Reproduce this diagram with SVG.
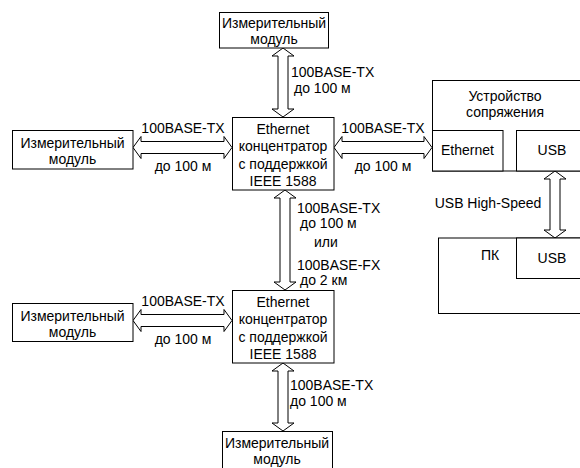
<svg xmlns="http://www.w3.org/2000/svg" width="580" height="468" viewBox="0 0 580 468">
<style>
.box{fill:#fff;stroke:#000;stroke-width:1}
.arr{fill:#fff;stroke:#000;stroke-width:1}
text{font-family:"Liberation Sans",Arial,sans-serif;font-size:14px;fill:#000}
.c{text-anchor:middle}
</style>
<rect width="580" height="468" fill="#fff"/>
<g id="connectors">
  <path class="arr" d="M283,48 L294,56 L288,56 L288,109 L294,109 L283,117 L272,109 L278,109 L278,56 L272,56 Z"/>
  <path class="arr" d="M133,147.5 L141,136.5 L141,141.5 L224,141.5 L224,136.5 L232,147.5 L224,158.5 L224,153.5 L141,153.5 L141,158.5 Z"/>
  <path class="arr" d="M334,147.5 L342,136.5 L342,141.5 L424,141.5 L424,136.5 L432,147.5 L424,158.5 L424,153.5 L342,153.5 L342,158.5 Z"/>
  <path class="arr" d="M285,190 L296,198 L290,198 L290,282 L296,282 L285,290 L274,282 L280,282 L280,198 L274,198 Z"/>
  <path class="arr" d="M133,320.5 L141,309.5 L141,314.5 L224,314.5 L224,309.5 L232,320.5 L224,331.5 L224,326.5 L141,326.5 L141,331.5 Z"/>
  <path class="arr" d="M283,363 L294,371 L288,371 L288,423 L294,423 L283,431 L272,423 L278,423 L278,371 L272,371 Z"/>
  <path class="arr" d="M555,171 L566,179 L560,179 L560,230 L566,230 L555,238 L544,230 L550,230 L550,179 L544,179 Z"/>
  <text x="291" y="77">100BASE-TX</text>
  <text x="294" y="93">до 100 м</text>
  <text class="c" x="183" y="133">100BASE-TX</text>
  <text class="c" x="183" y="171">до 100 м</text>
  <text class="c" x="383" y="133">100BASE-TX</text>
  <text class="c" x="383" y="171">до 100 м</text>
  <text x="297" y="213">100BASE-TX</text>
  <text x="300" y="228">до 100 м</text>
  <text x="314" y="247">или</text>
  <text x="297" y="270">100BASE-FX</text>
  <text x="300" y="285">до 2 км</text>
  <text class="c" x="183" y="306">100BASE-TX</text>
  <text class="c" x="183" y="344">до 100 м</text>
  <text x="290" y="390">100BASE-TX</text>
  <text x="290" y="406">до 100 м</text>
  <text class="c" x="488" y="208">USB High-Speed</text>
</g>
<g id="module-top">
  <rect class="box" x="219.5" y="12.5" width="109" height="35.5"/>
  <text class="c" x="274" y="28">Измерительный</text>
  <text class="c" x="274" y="44">модуль</text>
</g>
<g id="module-left1">
  <rect class="box" x="12.5" y="130.5" width="120.5" height="38.5"/>
  <text class="c" x="72.5" y="148">Измерительный</text>
  <text class="c" x="72.5" y="164">модуль</text>
</g>
<g id="hub1">
  <rect class="box" x="232.5" y="117.5" width="101.5" height="72.5"/>
  <text class="c" x="283" y="134">Ethernet</text>
  <text class="c" x="283" y="151">концентратор</text>
  <text class="c" x="283" y="169">с поддержкой</text>
  <text class="c" x="283" y="186">IEEE 1588</text>
</g>
<g id="interface-device">
  <rect class="box" x="432.5" y="80.5" width="160" height="90.5"/>
  <text class="c" x="505" y="101">Устройство</text>
  <text class="c" x="505" y="117">сопряжения</text>
  <rect class="box" x="432.5" y="130.5" width="70.5" height="40.5"/>
  <text class="c" x="467.5" y="155">Ethernet</text>
  <rect class="box" x="516.5" y="130.5" width="76" height="40.5"/>
  <text class="c" x="552" y="155">USB</text>
</g>
<g id="pc">
  <rect class="box" x="438.5" y="238" width="154" height="75.5"/>
  <text class="c" x="490" y="260">ПК</text>
  <rect class="box" x="516.5" y="238" width="76" height="40.5"/>
  <text class="c" x="552" y="263">USB</text>
</g>
<g id="module-left2">
  <rect class="box" x="12.5" y="303.5" width="120.5" height="38"/>
  <text class="c" x="72.5" y="321">Измерительный</text>
  <text class="c" x="72.5" y="337">модуль</text>
</g>
<g id="hub2">
  <rect class="box" x="232.5" y="290.5" width="101.5" height="72.5"/>
  <text class="c" x="283" y="307">Ethernet</text>
  <text class="c" x="283" y="324">концентратор</text>
  <text class="c" x="283" y="342">с поддержкой</text>
  <text class="c" x="283" y="359">IEEE 1588</text>
</g>
<g id="module-bottom">
  <rect class="box" x="222.5" y="431.5" width="110" height="45"/>
  <text class="c" x="277" y="448">Измерительный</text>
  <text class="c" x="277" y="464">модуль</text>
</g>
</svg>
